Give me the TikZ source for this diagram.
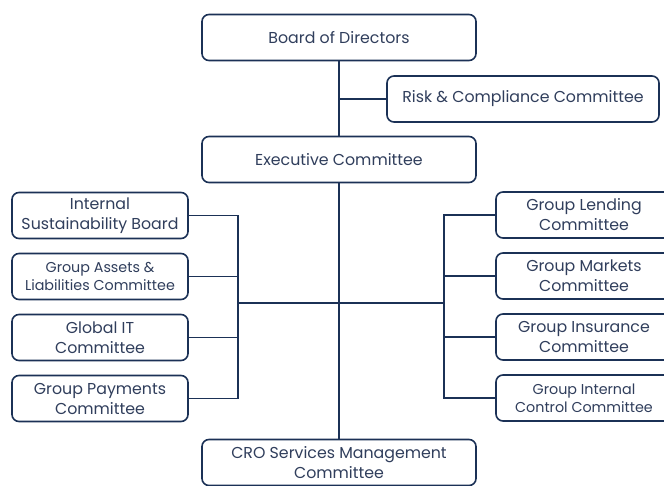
\documentclass[tikz,border=0pt]{standalone}
\usepackage{fontspec}
\setmainfont{Poppins}
\usetikzlibrary{positioning}

\definecolor{navy}{RGB}{27,49,86}
\definecolor{inktxt}{RGB}{48,62,92}

\tikzset{
  box/.style={draw=navy,line width=1.6pt,rounded corners=7pt,fill=white,
    minimum width=274pt,minimum height=46pt,align=center,text=inktxt,
    font=\fontsize{15.8}{20}\selectfont,inner sep=2pt,outer sep=0pt},
  side/.style={box,minimum width=176pt},
  small/.style={font=\fontsize{14.3}{18}\selectfont},
  link/.style={draw=navy,line width=1.6pt}
}

\begin{document}
\begin{tikzpicture}
	\useasboundingbox (0,0) rectangle (664pt,-485pt);
	\clip (0,0) rectangle (664pt,-485pt);

	\node[box] (board) at (339pt,-37.5pt) {Board of Directors};
	\node[box] (exec) [below=76pt of board] {Executive Committee};
	\node[box,minimum width=272pt] (risk) at (523pt,-99pt) {Risk \& Compliance Committee};
	\node[box] (cro) [below=257pt of exec] {CRO Services Management\\Committee};

	\node[side] (isb) at (100pt,-215.5pt) {Internal\\Sustainability Board};
	\node[side,small] (galc) [below=15pt of isb] {Group Assets \&\\Liabilities Committee};
	\node[side] (git) [below=15pt of galc] {Global IT\\Committee};
	\node[side] (gpay) [below=15pt of git] {Group Payments\\Committee};

	\node[side] (glend) at (584pt,-215pt) {Group Lending\\Committee};
	\node[side] (gmark) [below=15pt of glend] {Group Markets\\Committee};
	\node[side] (gins) [below=15pt of gmark] {Group Insurance\\Committee};
	\node[side,small] (gic) [below=15pt of gins] {Group Internal\\Control Committee};

	\coordinate (lbus) at (238pt,-303pt);
	\coordinate (rbus) at (444pt,-303pt);

	\path[link] (board) -- (exec)
	(risk.west) -- (risk.west -| board.south)
	(exec) -- (cro)
	(lbus) -- (rbus)
	(isb.east) -| (lbus)
	(gpay.east) -| (lbus)
	(galc.east) -- (galc.east -| lbus)
	(git.east) -- (git.east -| lbus)
	(glend.west) -| (rbus)
	(gic.west) -| (rbus)
	(gmark.west) -- (gmark.west -| rbus)
	(gins.west) -- (gins.west -| rbus)
	;
\end{tikzpicture}
\end{document}
